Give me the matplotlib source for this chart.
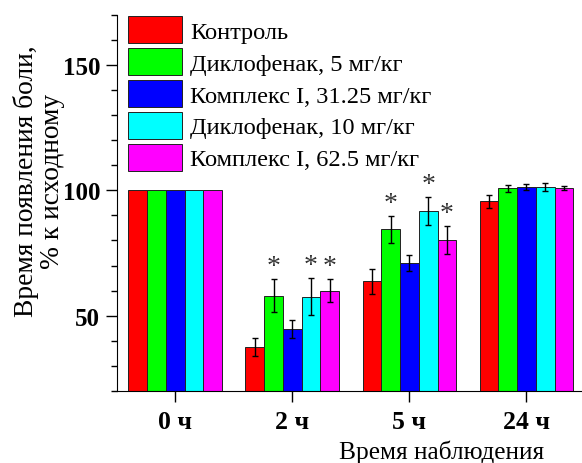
"""Grouped bar chart: time of pain onset, % of baseline, by observation time."""

import matplotlib
matplotlib.use("Agg")
import matplotlib.pyplot as plt
from matplotlib.ticker import MultipleLocator
import numpy as np

plt.rcParams['font.family'] = ['Liberation Serif', 'DejaVu Serif']

# Data
times = ['0 ч', '2 ч', '5 ч', '24 ч']
groups = ['Контроль', 'Диклофенак, 5 мг/кг', 'Комплекс I, 31.25 мг/кг',
          'Диклофенак, 10 мг/кг', 'Комплекс I, 62.5 мг/кг']
colors = ['#FF0000', '#00FF00', '#0000FF', '#00FFFF', '#FF00FF']

control = [100, 37.7, 63.7, 95.6]
diclo5 = [100, 58.0, 84.4, 100.8]
complex31 = [100, 44.7, 70.9, 101.2]
diclo10 = [100, 57.5, 91.9, 101.4]
complex62 = [100, 60.0, 80.1, 101.0]

control_err = [0, 3.6, 4.9, 2.6]
diclo5_err = [0, 6.5, 5.4, 1.3]
complex31_err = [0, 3.4, 3.2, 1.2]
diclo10_err = [0, 7.4, 5.6, 1.7]
complex62_err = [0, 4.5, 5.6, 0.9]

# significance marks (True = asterisk above bar)
diclo5_sig = [False, True, True, False]
diclo10_sig = [False, True, True, False]
complex62_sig = [False, True, True, False]
no_sig = [False] * 4

values = [control, diclo5, complex31, diclo10, complex62]
errors = [control_err, diclo5_err, complex31_err, diclo10_err, complex62_err]
signif = [no_sig, diclo5_sig, no_sig, diclo10_sig, complex62_sig]

fig = plt.figure(figsize=(5.82, 4.64), dpi=100)
ax = fig.add_axes([0.2005, 0.1552, 0.8047, 0.811])

x = np.arange(len(times))
width = 0.16

for i in range(len(groups)):
    pos = x + (i - 2) * width
    vals = np.array(values[i])
    errs = np.array(errors[i])
    ax.bar(pos, vals, width, color=colors[i], edgecolor='#222222',
           linewidth=0.7, label=groups[i], zorder=2)
    # error bars only where there is a spread (baseline has none)
    has_err = errs > 0
    ax.errorbar(pos[has_err], vals[has_err], yerr=errs[has_err], fmt='none',
                ecolor='black', elinewidth=1, capsize=2.5, capthick=1, zorder=3)
    # asterisks above significant bars
    for j in range(len(times)):
        if signif[i][j]:
            ax.annotate('*', (pos[j], vals[j] + errs[j]),
                        xytext=(0, 9), textcoords='offset points',
                        ha='center', va='center', fontsize=20, color='#333333')

ax.set_xlim(-0.5, 3.5)
ax.set_ylim(20, 170)

ax.spines['top'].set_visible(False)
ax.spines['right'].set_visible(False)

ax.set_xticks(x)
ax.set_xticklabels(times, fontsize=18.5, fontweight='bold')
ax.yaxis.set_major_locator(MultipleLocator(50))
ax.yaxis.set_minor_locator(MultipleLocator(10))
for lab in ax.get_yticklabels():
    lab.set_fontsize(18)
    lab.set_fontweight('bold')
ax.tick_params(axis='both', which='major', length=8, width=1, pad=4)
ax.tick_params(axis='x', which='major', pad=6)
ax.tick_params(axis='y', which='minor', length=4, width=1)

ax.set_xlabel('Время наблюдения', fontsize=18.3)
ax.xaxis.set_label_coords(0.694, -0.128)
ax.set_ylabel('Время появления боли,\n% к исходному', fontsize=19.8,
              linespacing=1.05)
ax.yaxis.set_label_coords(-0.11, 0.56)

ax.legend(loc='upper left', bbox_to_anchor=(0.025, 0.996), frameon=False,
          fontsize=17.6, handlelength=2.21, handleheight=1.32,
          labelspacing=0.2, handletextpad=0.32, borderpad=0, borderaxespad=0)

fig.savefig('out.png', dpi=100)
